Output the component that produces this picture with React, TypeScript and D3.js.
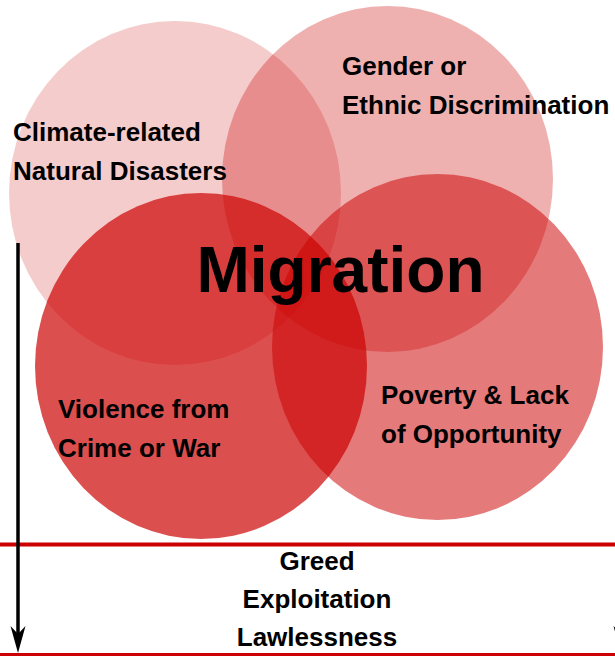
import React from "react";
import * as d3 from "d3";

// ---- data ----
const causes = ["Climate", "Gender", "Violence", "Poverty"];
const causeLabels: string[][] = [
  ["Climate-related", "Natural Disasters"],
  ["Gender or", "Ethnic Discrimination"],
  ["Violence from", "Crime or War"],
  ["Poverty & Lack", "of Opportunity"],
];
const causeIntensity = [0.2, 0.31, 0.69, 0.52];
const centreLabel = "Migration";
const rootCauses = ["Greed", "Exploitation", "Lawlessness"];

// ---- layout (kept separate from data) ----
const W = 615;
const H = 656;
const BASE = "#cc0000";
const circleLayout = [
  { cx: 175, cy: 193, rx: 166, ry: 172, lx: 13, ly: 141 },
  { cx: 387.5, cy: 179, rx: 165.5, ry: 173, lx: 342, ly: 75 },
  { cx: 201, cy: 366, rx: 166, ry: 173, lx: 58, ly: 418 },
  { cx: 437.5, cy: 347, rx: 165.5, ry: 173, lx: 381, ly: 404 },
];

export default function App() {
  const opacity = d3.scaleLinear().domain([0, 1]).range([0, 1]);
  const lineGap = 38.5;
  const bottomY = d3.scalePoint<string>().domain(rootCauses).range([570, 646]);
  const font = "'Liberation Sans', Arial, sans-serif";

  const arrowHead = (x: number, tip: number) =>
    `M${x},${tip} L${x - 7.5},${tip - 27} L${x},${tip - 19} L${x + 7.5},${tip - 27} Z`;

  return (
    <svg
      width={W}
      height={H}
      style={{ position: "absolute", left: 0, top: 0, background: "#fff" }}
      fontFamily={font}
    >
      <rect x={0} y={0} width={W} height={H} fill="#fff" />
      {causes.map((c, i) => (
        <ellipse
          key={c}
          cx={circleLayout[i].cx}
          cy={circleLayout[i].cy}
          rx={circleLayout[i].rx}
          ry={circleLayout[i].ry}
          fill={BASE}
          fillOpacity={opacity(causeIntensity[i])}
        />
      ))}
      {causes.map((c, i) => (
        <text key={c + "-t"} fontSize={26} fontWeight="bold" fill="#000">
          {causeLabels[i].map((line, j) => (
            <tspan key={j} x={circleLayout[i].lx} y={circleLayout[i].ly + j * lineGap}>
              {line}
            </tspan>
          ))}
        </text>
      ))}
      <text x={340.5} y={292} fontSize={64} fontWeight="bold" textAnchor="middle" fill="#000">
        {centreLabel}
      </text>

      {/* lines */}
      <line x1={0} x2={W} y1={544.5} y2={544.5} stroke="#cc0000" strokeWidth={4} />
      <line x1={0} x2={W} y1={654.5} y2={654.5} stroke="#cc0000" strokeWidth={3} />

      {rootCauses.map((r) => (
        <text
          key={r}
          x={317}
          y={bottomY(r)}
          fontSize={26}
          fontWeight="bold"
          textAnchor="middle"
          fill="#000"
        >
          {r}
        </text>
      ))}

      {/* arrows */}
      <line x1={18} x2={18} y1={243} y2={638} stroke="#000" strokeWidth={3.5} />
      <path d={arrowHead(18, 653)} fill="#000" />
      <path d={arrowHead(621, 653)} fill="#000" />
    </svg>
  );
}
